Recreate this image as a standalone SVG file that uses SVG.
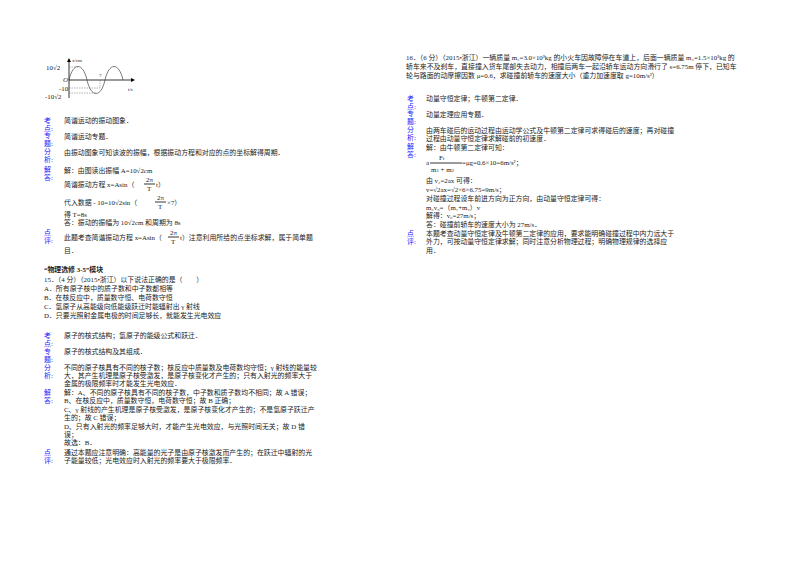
<svg xmlns="http://www.w3.org/2000/svg" width="800" height="566" viewBox="0 0 800 566">
<style>
text{font-family:"Liberation Serif","Noto Sans CJK SC",serif;font-size:6.9px;fill:#222}
.l{fill:#1a1aff}
.b{font-weight:bold}
.ax{stroke:#000;stroke-width:0.8;fill:none}
.d{stroke:#666;stroke-width:0.5;stroke-dasharray:1.5,1;fill:none}
</style>
<rect width="800" height="566" fill="#fff"/>
<g id="graph">
<line class="ax" x1="69" y1="98" x2="69" y2="60"/>
<path d="M67 62 L69 58 L71 62Z" fill="#000"/>
<line class="ax" x1="69" y1="80" x2="133" y2="80"/>
<path d="M131 78 L135 80 L131 82Z" fill="#000"/>
<path d="M69 80 C73 62 83 62 87 80 C91 98 101 98 105 80 C109 62 119 62 123 80" stroke="#444" stroke-width="0.7" fill="none"/>
<line class="d" x1="69" y1="67" x2="78" y2="67"/>
<line class="d" x1="69" y1="88" x2="100" y2="88"/>
<line class="d" x1="69" y1="93" x2="96" y2="93"/>
<line class="d" x1="100" y1="80" x2="100" y2="88"/>
<text x="72" y="62" style="font-size:5px">x/cm</text>
<text x="46" y="70">10√2</text>
<text x="63" y="82" style="font-style:italic">O</text>
<text x="59" y="91">-10</text>
<text x="45" y="99">-10√2</text>
<text x="99" y="77" style="font-size:5px">7</text>
<text x="128" y="91" style="font-size:5px">t/s</text>
</g>
<g id="left">
<text class="l" x="44" y="123">考</text><text class="l" x="44" y="131">点:</text>
<text x="64" y="123">简谐运动的振动图象．</text>
<text class="l" x="44" y="138">专</text><text class="l" x="44" y="146">题:</text>
<text x="64" y="139">简谐运动专题．</text>
<text class="l" x="44" y="154">分</text><text class="l" x="44" y="162">析:</text>
<text x="64" y="155">由振动图象可知该波的振幅，根据振动方程和对应的点的坐标解得周期．</text>
<text class="l" x="44" y="172">解</text><text class="l" x="44" y="180">答:</text>
<text x="64" y="173">解：由图读出振幅 A=10√2cm</text>
<text x="64" y="187">简谐振动方程 x=Asin（</text><text x="146" y="182">2π</text><line class="ax" x1="144" y1="184" x2="155" y2="184" stroke-width="0.5"/><text x="147" y="191">T</text><text x="156" y="187">t）</text>
<text x="64" y="205">代入数据 - 10=10√2sin（</text><text x="157" y="200">2π</text><line class="ax" x1="155" y1="202" x2="166" y2="202" stroke-width="0.5"/><text x="158" y="209">T</text><text x="167" y="205">×7）</text>
<text x="64" y="217">得 T=8s</text>
<text x="64" y="225">答：振动的振幅为 10√2cm 和周期为 8s</text>
<text class="l" x="44" y="235">点</text><text class="l" x="44" y="243">评:</text>
<text x="64" y="240">此题考查简谐振动方程 x=Asin（</text><text x="170" y="235">2π</text><line class="ax" x1="168" y1="237" x2="179" y2="237" stroke-width="0.5"/><text x="171" y="244">T</text><text x="180" y="240">t）注意利用所给的点坐标求解，属于简单题</text>
<text x="64" y="253">目．</text>
<text class="b" x="44" y="272">“物理选修 3-5”模块</text>
<text x="44" y="282">15．（4 分）（2015•浙江）以下说法正确的是（　　）</text>
<text x="44" y="291">A．所有原子核中的质子数和中子数都相等</text>
<text x="44" y="300">B．在核反应中，质量数守恒、电荷数守恒</text>
<text x="44" y="309">C．氢原子从高能级向低能级跃迁时能辐射出 γ 射线</text>
<text x="44" y="318">D．只要光照射金属电极的时间足够长，就能发生光电效应</text>
<text class="l" x="44" y="338">考</text><text class="l" x="44" y="346">点:</text>
<text x="64" y="338">原子的核式结构；氢原子的能级公式和跃迁．</text>
<text class="l" x="44" y="354">专</text><text class="l" x="44" y="362">题:</text>
<text x="64" y="354">原子的核式结构及其组成．</text>
<text class="l" x="44" y="370">分</text><text class="l" x="44" y="378">析:</text>
<text x="64" y="370">不同的原子核具有不同的核子数；核反应中质量数及电荷数均守恒；γ 射线的能量较</text>
<text x="64" y="378">大，其产生机理是原子核受激发，是原子核变化才产生的；只有入射光的频率大于</text>
<text x="64" y="386">金属的极限频率时才能发生光电效应．</text>
<text class="l" x="44" y="395">解</text><text class="l" x="44" y="403">答:</text>
<text x="64" y="395">解：A、不同的原子核具有不同的核子数，中子数和质子数均不相同；故 A 错误；</text>
<text x="64" y="403">B、在核反应中，质量数守恒，电荷数守恒；故 B 正确；</text>
<text x="64" y="412">C、γ 射线的产生机理是原子核受激发，是原子核变化才产生的；不是氢原子跃迁产</text>
<text x="64" y="420">生的；故 C 错误；</text>
<text x="64" y="429">D、只有入射光的频率足够大时，才能产生光电效应，与光照时间无关；故 D 错</text>
<text x="64" y="437">误；</text>
<text x="64" y="445">故选：B．</text>
<text class="l" x="44" y="455">点</text><text class="l" x="44" y="463">评:</text>
<text x="64" y="455">通过本题应注意明确：高能量的光子是由原子核激发而产生的；在跃迁中辐射的光</text>
<text x="64" y="463">子能量较低；光电效应时入射光的频率要大于极限频率．</text>
</g>
<g id="right">
<text x="406" y="60">16．（6 分）（2015•浙江）一辆质量 m₁=3.0×10³kg 的小火车因故障停在车道上，后面一辆质量 m₂=1.5×10³kg 的</text>
<text x="406" y="69">轿车来不及刹车，直接撞入货车尾部失去动力，相撞后两车一起沿轿车运动方向滑行了 s=6.75m 停下，已知车</text>
<text x="406" y="78">轮与路面的动摩擦因数 μ=0.6，求碰撞前轿车的速度大小（重力加速度取 g=10m/s²）</text>
<text class="l" x="407" y="101">考</text><text class="l" x="407" y="109">点:</text>
<text x="426" y="101">动量守恒定律；牛顿第二定律．</text>
<text class="l" x="407" y="116">专</text><text class="l" x="407" y="124">题:</text>
<text x="426" y="117">动量定理应用专题．</text>
<text class="l" x="407" y="132">分</text><text class="l" x="407" y="140">析:</text>
<text x="426" y="133">由两车碰后的运动过程由运动学公式及牛顿第二定律可求得碰后的速度；再对碰撞</text>
<text x="426" y="141">过程由动量守恒定律求解碰前的初速度．</text>
<text class="l" x="407" y="149">解</text><text class="l" x="407" y="157">答:</text>
<text x="426" y="150">解：由牛顿第二定律可知：</text>
<text x="439" y="160">F<tspan style="font-size:5px">f</tspan></text>
<line class="ax" x1="430" y1="163" x2="462" y2="163" stroke-width="0.5"/>
<text x="426" y="165">a</text>
<text x="431" y="172">m<tspan style="font-size:5px">1</tspan> + m<tspan style="font-size:5px">2</tspan></text>
<text x="462" y="165">=μg=0.6×10=6m/s²；</text>
<text x="426" y="183">由 v₂=2ax 可得：</text>
<text x="426" y="192">v=√2ax=√2×6×6.75=9m/s；</text>
<text x="426" y="201">对碰撞过程设车前进方向为正方向，由动量守恒定律可得：</text>
<text x="426" y="210">m₂v₀=（m₁+m₂）v</text>
<text x="426" y="218">解得：v₀=27m/s；</text>
<text x="426" y="227">答：碰撞前轿车的速度大小为 27m/s．</text>
<text class="l" x="407" y="236">点</text><text class="l" x="407" y="244">评:</text>
<text x="426" y="236">本题考查动量守恒定律及牛顿第二定律的应用，要求能明确碰撞过程中内力远大于</text>
<text x="426" y="244">外力，可按动量守恒定律求解；同时注意分析物理过程；明确物理规律的选择应</text>
<text x="426" y="253">用．</text>
</g>
</svg>
